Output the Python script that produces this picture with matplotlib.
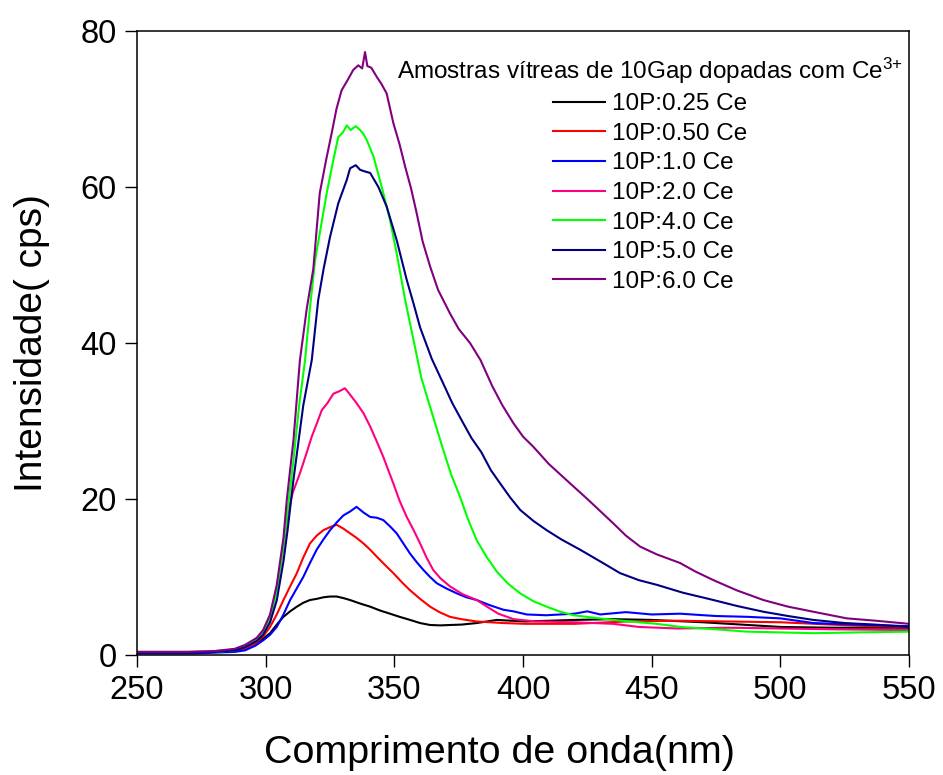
import numpy as np
import matplotlib
matplotlib.use('Agg')
import matplotlib.pyplot as plt

plt.rcParams['font.family'] = ['Liberation Sans', 'DejaVu Sans']
plt.rcParams['mathtext.fontset'] = 'custom'
plt.rcParams['mathtext.rm'] = 'Liberation Sans'
plt.rcParams['mathtext.it'] = 'Liberation Sans:italic'

# espectros de emissao (nm, cps) lidos por amostra
x_025 = [250, 270, 280, 288, 292, 296, 299, 301.7, 304.3, 306.9, 309.5, 312.1, 314.6, 317.2, 319.8,
         322.4, 325, 327.6, 330.2, 332.8, 336.7, 340.6, 344.5, 348.3, 352, 356.1, 360, 363.9, 368,
         371.6, 376, 382, 389.8, 401, 420, 435, 450, 470, 485, 500, 520, 550]
y_025 = [0.3, 0.3, 0.4, 0.6, 0.9, 1.5, 2.1, 2.8, 3.9, 4.9, 5.6, 6.2, 6.7, 7.05, 7.2,
         7.4, 7.5, 7.5, 7.3, 7.05, 6.6, 6.2, 5.7, 5.3, 4.9, 4.5, 4.1, 3.85, 3.8,
         3.85, 3.9, 4.1, 4.5, 4.3, 4.5, 4.6, 4.5, 4.2, 3.9, 3.6, 3.5, 3.5]

x_050 = [250, 270, 280, 288, 292, 296, 299, 301.7, 304.3, 306.9, 309.5, 312.1, 314.6, 317.2, 319.8,
         322.4, 325, 327.6, 330.2, 332.8, 335.4, 338, 340.6, 343.2, 346.5, 349.6, 353, 356.1, 360,
         363.9, 367.5, 371.6, 376, 382, 392.4, 401, 420, 440, 460, 480, 500, 520, 535, 550]
y_050 = [0.3, 0.3, 0.4, 0.5, 0.8, 1.5, 2.4, 3.6, 5.2, 7.05, 8.8, 10.5, 12.5, 14.3, 15.3,
         16.0, 16.4, 16.7, 16.2, 15.6, 15.0, 14.3, 13.5, 12.6, 11.5, 10.5, 9.3, 8.3, 7.2,
         6.2, 5.5, 4.9, 4.6, 4.3, 4.1, 4.0, 4.0, 4.3, 4.4, 4.3, 4.2, 3.9, 3.7, 3.6]

x_10 = [250, 270, 280, 288, 292, 296, 299.1, 301.7, 304.3, 306.9, 309.5, 312, 314.6, 317.2, 319.8,
        322.4, 325, 327.6, 330.2, 332.8, 335.3, 337.9, 340.6, 343.2, 345.7, 348.3, 350.9, 353.5,
        356.1, 358.7, 361.3, 363.9, 366.5, 370.4, 374.3, 378, 382, 387, 392.4, 396.3, 401.4, 409,
        420, 425, 430, 440, 450, 461, 475, 487, 500, 512.8, 530, 550]
y_10 = [0.2, 0.2, 0.3, 0.4, 0.6, 1.2, 1.9, 2.6, 3.6, 5.2, 7.05, 8.5, 10.0, 11.8, 13.5,
        14.8, 16.0, 17.0, 17.9, 18.4, 19.0, 18.3, 17.7, 17.6, 17.3, 16.5, 15.6, 14.3,
        13.0, 11.9, 10.9, 10.0, 9.2, 8.5, 7.9, 7.4, 7.05, 6.4, 5.8, 5.6, 5.2, 5.1,
        5.3, 5.6, 5.2, 5.5, 5.2, 5.3, 5.0, 4.9, 4.7, 4.1, 3.9, 3.7]

x_20 = [250, 270, 280, 288, 292, 296.5, 299, 301.7, 304.3, 306.9, 308.5, 310.5, 313.3, 315.5, 317.9,
        320, 321.8, 324, 326.3, 328.5, 330.8, 332.5, 335.3, 338, 340.6, 343, 345.7, 349.6, 352,
        354.8, 357.5, 360, 362.5, 365.1, 368, 371.6, 376.5, 382, 386, 390.4, 396.3, 405, 420,
        435, 445, 460, 480, 500, 520, 550]
y_20 = [0.4, 0.4, 0.5, 0.7, 1.2, 2.0, 3.0, 5.0, 8.5, 14.0, 18.0, 20.8, 23.3, 25.5, 28.0,
        29.8, 31.4, 32.3, 33.5, 33.8, 34.2, 33.5, 32.3, 31.0, 29.3, 27.5, 25.4, 22.0, 19.8,
        17.7, 16.0, 14.3, 12.5, 10.9, 9.8, 8.8, 7.8, 7.05, 6.2, 5.3, 4.6, 4.3, 4.2,
        4.0, 3.6, 3.4, 3.5, 3.4, 3.3, 3.2]

x_40 = [250, 270, 280, 288, 292, 296.5, 299, 301.7, 304.3, 306.9, 308.5, 310.8, 313, 315.3, 317.2,
        319.2, 321.5, 323.7, 326, 328.2, 330, 331.5, 333, 335, 336.7, 338, 339.3, 341.9, 345.1,
        348.3, 350.9, 354.2, 358, 360.5, 363.9, 369, 372, 375.5, 378.5, 382, 386, 389.8, 394,
        398.9, 404, 409.2, 414, 419.6, 427, 435.1, 445, 452, 461, 475, 487, 500, 512.8, 530, 550]
y_40 = [0.4, 0.4, 0.4, 0.6, 1.1, 1.9, 2.8, 4.6, 8.2, 14.0, 18.5, 25.0, 32.0, 37.8, 44.5,
        50.6, 55.0, 59.2, 63.0, 66.4, 67.0, 67.9, 67.3, 67.8, 67.3, 66.8, 66.0, 63.9, 60.0,
        55.8, 51.5, 45.5, 39.5, 35.5, 31.8, 26.3, 23.2, 20.3, 17.5, 14.7, 12.5, 10.7, 9.2,
        7.9, 6.9, 6.2, 5.6, 5.1, 4.8, 4.5, 4.2, 4.0, 3.6, 3.3, 3.0, 2.9, 2.8, 2.9, 3.0]

x_50 = [250, 270, 280, 288, 292, 296.5, 299, 301.7, 304.3, 306.9, 308.5, 310.8, 314.6, 317.9, 320.4,
        322.5, 325, 328.2, 331.5, 332.8, 335, 336.7, 338.5, 340.6, 343.8, 347, 350.9, 354.8, 357.5,
        360, 364.5, 369, 372.5, 376.8, 380, 383.8, 387.5, 391.1, 395, 398.9, 404, 409.2, 415,
        422.2, 430, 437.7, 445, 452, 462, 474, 483, 493.4, 503, 512.8, 525, 537, 550]
y_50 = [0.3, 0.3, 0.4, 0.6, 1.0, 1.8, 2.6, 4.2, 7.0, 12.0, 16.0, 22.5, 32.0, 37.8, 45.5,
        49.5, 53.6, 57.9, 60.9, 62.4, 62.8, 62.2, 62.0, 61.8, 60.0, 57.5, 53.2, 48.1, 45.0,
        42.0, 38.0, 34.8, 32.3, 29.7, 27.8, 26.0, 23.7, 22.0, 20.2, 18.6, 17.2, 16.0, 14.8,
        13.5, 12.0, 10.5, 9.6, 9.0, 8.0, 7.05, 6.3, 5.55, 5.0, 4.5, 4.1, 3.9, 3.6]

x_60 = [250, 260, 270, 280, 288, 292, 296.5, 299, 301.7, 304.3, 306.9, 308.2, 310.8, 313.3, 316,
        318.5, 321, 323.5, 325.7, 327.5, 329.5, 332, 334, 336, 337.5, 338.6, 339.5, 341, 343.2,
        345, 347, 349.6, 352, 354.2, 356.5, 358.7, 361, 363.9, 367, 371.6, 375, 379.4, 383.5,
        388, 392, 396.3, 400, 404, 410, 418.3, 425, 435, 440, 445.5, 452, 461, 467, 474, 483,
        493.4, 503, 512.8, 525.8, 537, 550]
y_60 = [0.4, 0.4, 0.4, 0.5, 0.8, 1.3, 2.2, 3.2, 5.2, 9.0, 15.0, 19.9, 27.6, 37.8, 44.5,
        49.5, 59.2, 63.5, 67.0, 70.0, 72.4, 73.8, 75.0, 75.6, 75.2, 77.3, 75.5, 75.3, 74.1,
        73.2, 72.0, 68.2, 65.5, 62.6, 59.8, 56.6, 53.0, 49.8, 46.8, 43.8, 41.8, 40.0, 37.8,
        34.5, 32.0, 29.7, 28.0, 26.7, 24.5, 22.0, 20.0, 16.9, 15.3, 13.9, 12.9, 11.8, 10.7, 9.6, 8.3,
        7.05, 6.2, 5.55, 4.7, 4.4, 4.0]

labels = ['10P:0.25 Ce', '10P:0.50 Ce', '10P:1.0 Ce', '10P:2.0 Ce', '10P:4.0 Ce', '10P:5.0 Ce', '10P:6.0 Ce']
clist = ['#000000', '#ff0000', '#0000ff', '#ff0080', '#00ff00', '#000080', '#800080']
xs = [x_025, x_050, x_10, x_20, x_40, x_50, x_60]
ys = [y_025, y_050, y_10, y_20, y_40, y_50, y_60]

fig = plt.figure(figsize=(9.43, 7.75), dpi=100)
ax = fig.add_axes([0.1453, 0.1548, 0.8187, 0.8052])
for i in range(len(labels)):
    ax.plot(xs[i], ys[i], '-', lw=1.5, c=clist[i], label=labels[i])

ax.set_xlim(250, 550)
ax.set_ylim(0, 80)
ax.set_xticks([250, 300, 350, 400, 450, 500, 550])
ax.set_yticks([0, 20, 40, 60, 80])
ax.tick_params(axis='both', direction='out', length=8.6, width=1.0, labelsize=23.5, pad=6)
for s in ax.spines.values():
    s.set_linewidth(1.1)
ax.set_xlabel('Comprimento de onda(nm)', fontsize=28.4, labelpad=21)
ax.xaxis.label.set_x(0.469)
ax.set_ylabel('Intensidade( cps)', fontsize=28, labelpad=22)

leg = ax.legend(loc='upper right', bbox_to_anchor=(1.008, 0.98), frameon=False,
                title='Amostras vítreas de 10Gap dopadas com Ce$^{3{+}}$',
                fontsize=17.5, title_fontsize=17.5, handlelength=2.14,
                handletextpad=0.3, labelspacing=0.31, borderaxespad=0.1)

plt.savefig('out.png', dpi=100)
